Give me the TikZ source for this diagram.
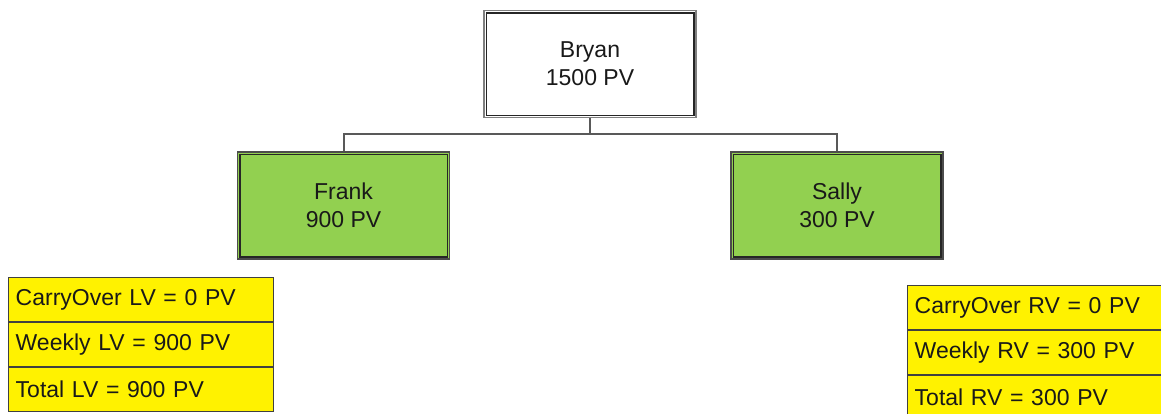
\documentclass[tikz,border=0pt]{standalone}
\usepackage{fontspec}
\setmainfont{Liberation Sans}
\begin{document}
\begin{tikzpicture}[x=1pt,y=1pt,
  every node/.style={font=\fontsize{23}{28}\selectfont, text=black!90},
  person/.style={draw=#1, line width=1.5pt, minimum width=212pt, minimum height=107pt,
    inner sep=0pt, align=center},
  innerframe/.style={draw=black!85, line width=1.5pt},
  conn/.style={draw=black!65, line width=2pt},
  row/.style={draw=black!75, line width=1.4pt, fill=yellow, anchor=north west,
    text width=251pt, inner xsep=7pt, inner ysep=0pt, minimum height=43.6pt, align=left}
]
\definecolor{leafgreen}{HTML}{92D050}
\useasboundingbox (0,0) rectangle (1161,-413);
\fill[white] (0,0) rectangle (1161,-413);

% sponsor and the two legs
\node[person=black!50, fill=white] (b) at (590,-64) {Bryan\\1500 PV};
\node[person=black!70, fill=leafgreen] (f) at (343.5,-205.5) {Frank\\900 PV};
\node[person=black!70, fill=leafgreen] (s) at (837,-205.5) {Sally\\300 PV};
\foreach \n in {b,f,s}
  \draw[innerframe] ([shift={(3pt,-3pt)}]\n.north west) rectangle ([shift={(-3pt,3pt)}]\n.south east);

% tree connectors
\draw[conn] (b.south) -- ++(0,-16) coordinate (j) -| (f.north);
\draw[conn] (j) -| (s.north);

% left leg volumes
\node[row] (l1) at (8,-277) {CarryOver LV = 0 PV};
\node[row] (l2) at (l1.south west) {Weekly LV = 900 PV};
\node[row] (l3) at (l2.south west) {Total LV = 900 PV};

% right leg volumes
\node[row, text width=262pt] (r1) at (907,-285) {CarryOver RV = 0 PV};
\node[row, text width=262pt] (r2) at (r1.south west) {Weekly RV = 300 PV};
\node[row, text width=262pt] (r3) at (r2.south west) {Total RV = 300 PV};
\end{tikzpicture}
\end{document}
